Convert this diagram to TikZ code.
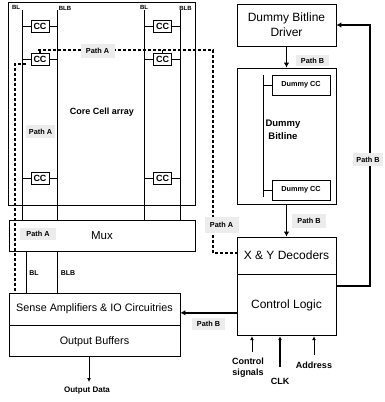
\documentclass[tikz,border=0pt]{standalone}
\usepackage{fontspec}
\setmainfont{Liberation Sans}
\usetikzlibrary{arrows.meta}

\begin{document}
\begin{tikzpicture}[x=1pt,y=-1pt,
	wire/.style={line width=0.8pt},
	blk/.style={draw, line width=0.8pt, inner sep=0pt, align=center, font=\fontsize{12}{15}\selectfont},
	cell/.style={draw, line width=0.8pt, minimum width=18pt, minimum height=12pt, inner sep=0pt, font=\bfseries\fontsize{9}{9}\selectfont},
	dcell/.style={draw, line width=0.8pt, minimum width=58pt, minimum height=20pt, inner sep=0pt, font=\bfseries\fontsize{7.3}{8}\selectfont},
	tag/.style={inner sep=0pt, font=\bfseries\fontsize{6}{7}\selectfont},
	lbl/.style={inner sep=0pt, align=center, font=\bfseries\fontsize{9}{11}\selectfont},
	pathlbl/.style={fill=gray!15, inner sep=0pt, minimum width=34pt, minimum height=14pt, font=\bfseries\fontsize{7.3}{8}\selectfont},
	patha/.style={line width=2.7pt, dash pattern=on 3pt off 2pt},
	pathb/.style={line width=1.8pt, -{Latex[length=5pt,width=5.5pt]}},
	inarrow/.style={line width=0.9pt, -{Latex[length=4pt,width=4pt]}}]

	\useasboundingbox (0,0) rectangle (384,402);

	% left column
	\node[draw, line width=0.8pt, minimum width=187pt, minimum height=203pt, inner sep=0pt] (core) at (101.5,103.5) {};
	\node[lbl] (corelbl) at (102,112) {Core Cell array};
	\node[blk, minimum width=186pt, minimum height=31pt, font=\fontsize{11.5}{13}\selectfont] (mux) at (102,235.5) {Mux};
	\node[blk, minimum width=171pt, minimum height=32pt, font=\fontsize{10.8}{12}\selectfont] (sense) at (94.5,309) {Sense Amplifiers \& IO Circuitries};
	\node[blk, minimum width=171pt, minimum height=31pt, font=\fontsize{10.8}{12}\selectfont, anchor=north] (obuf) at (sense.south) {Output Buffers};

	% right column
	\node[blk, minimum width=99pt, minimum height=42pt] (drv) at (286.5,25) {Dummy Bitline\\Driver};
	\node[draw, line width=0.8pt, minimum width=99pt, minimum height=136pt, inner sep=0pt] (dummy) at (286.5,136) {};
	\node[blk, minimum width=99pt, minimum height=37pt] (dec) at (286.5,255.5) {X \& Y Decoders};
	\node[blk, minimum width=99pt, minimum height=61pt, anchor=north] (ctrl) at (dec.south) {Control Logic};

	% bitlines
	\coordinate (bl1) at (22,10);
	\coordinate (blb1) at (57,10);
	\coordinate (bl2) at (144,10);
	\coordinate (blb2) at (180,10);
	\foreach \b in {bl1,blb1,bl2,blb2}
		\draw[wire] (\b) -- (\b |- mux.north);
	\node[tag] (tbl1) at (16,7) {BL};
	\node[tag] (tblb1) at (65,8) {BLB};
	\node[tag] (tbl2) at (144,7) {BL};
	\node[tag] (tblb2) at (185.5,8) {BLB};

	% core cells
	\foreach \r/\y in {1/26,2/59,3/178} {
		\node[cell] (ccl\r) at (40,\y) {CC};
		\node[cell] (ccr\r) at (162.5,\y) {CC};
		\draw[wire] (ccl\r.west) -- (ccl\r.west -| bl1);
		\draw[wire] (ccl\r.east) -- (ccl\r.east -| blb1);
		\draw[wire] (ccr\r.west) -- (ccr\r.west -| bl2);
		\draw[wire] (ccr\r.east) -- (ccr\r.east -| blb2);
	}

	% mux to sense amps
	\draw[wire] (mux.south -| 26,0) -- (sense.north -| 26,0);
	\draw[wire] (mux.south -| 57,0) -- (sense.north -| 57,0);
	\node[tag, font=\bfseries\fontsize{7}{8}\selectfont] (mbl) at (34,273) {BL};
	\node[tag, font=\bfseries\fontsize{7}{8}\selectfont] (mblb) at (68,273) {BLB};

	% output
	\coordinate (outp) at (89,382);
	\draw[inarrow] (obuf.south -| outp) -- (outp);
	\node[lbl, font=\bfseries\fontsize{8}{9}\selectfont] (outlbl) at (87,391) {Output Data};

	% dummy bitline
	\coordinate (dbt) at (263,75);
	\coordinate (dbb) at (263,197);
	\draw[wire] (dbt) -- (dbb);
	\node[dcell] (dcc1) at (301,85) {Dummy CC};
	\node[dcell] (dcc2) at (301,190) {Dummy CC};
	\draw[wire] (dcc1.west) -- (dcc1.west -| dbt);
	\draw[wire] (dcc2.west) -- (dcc2.west -| dbt);
	\node[lbl, font=\bfseries\fontsize{9.5}{13}\selectfont] (dbl) at (283,130) {Dummy\\Bitline};

	% path A
	\coordinate (pa1) at (38,50);
	\coordinate (pa2) at (213,50);
	\coordinate (pa3) at (213,253);
	\draw[patha] (pa1) -- (pa2) -- (pa3) -- (pa3 -| dec.west);
	\draw[line width=1.6pt] (ccl2.north) -- (ccl2.north |- pa1);
	\draw[line width=1.6pt] (ccr2.north) -- (ccr2.north |- pa1);
	\coordinate (pa4) at (26,64);
	\coordinate (pa5) at (15,64);
	\draw[patha] (pa4) -- (pa5) -- (pa5 |- sense.north);

	% path B
	\coordinate (pb1) at (370,286);
	\draw[pathb] (drv.south) -- (dummy.north);
	\draw[pathb] (dummy.south) -- (dec.north);
	\draw[pathb] (pb1 -| ctrl.east) -- (pb1) -- (pb1 |- drv.east) -- (drv.east);
	\draw[pathb] ([yshift=-7.5pt]ctrl.west) -- ([yshift=-7.5pt]ctrl.west -| sense.east);

	% path labels
	\node[pathlbl] (la1) at (97.5,50.5) {Path A};
	\node[pathlbl, minimum width=29pt, minimum height=13pt] (la2) at (40.5,131.5) {Path A};
	\node[pathlbl, minimum width=36pt, minimum height=12pt] (la3) at (38,234) {Path A};
	\node[pathlbl, minimum height=16pt] (la4) at (221.5,225) {Path A};
	\node[pathlbl, minimum width=33pt, minimum height=11pt] (lb1) at (312.5,60.5) {Path B};
	\node[pathlbl] (lb2) at (309,220.5) {Path B};
	\node[pathlbl, minimum width=30pt, minimum height=13pt] (lb3) at (368,159.5) {Path B};
	\node[pathlbl, minimum width=33pt, minimum height=12pt] (lb4) at (208.5,324) {Path B};

	% inputs
	\coordinate (incs) at (252,352);
	\coordinate (inclk) at (280,367);
	\coordinate (inad) at (314,355);
	\draw[inarrow] (incs) -- (incs |- ctrl.south);
	\draw[inarrow, line width=1.6pt] (inclk) -- (inclk |- ctrl.south);
	\draw[inarrow] (inad) -- (inad |- ctrl.south);
	\node[lbl] (lcs) at (248,367.5) {Control\\signals};
	\node[lbl] (lclk) at (280,381) {CLK};
	\node[lbl] (lad) at (314,365) {Address};

\end{tikzpicture}
\end{document}
